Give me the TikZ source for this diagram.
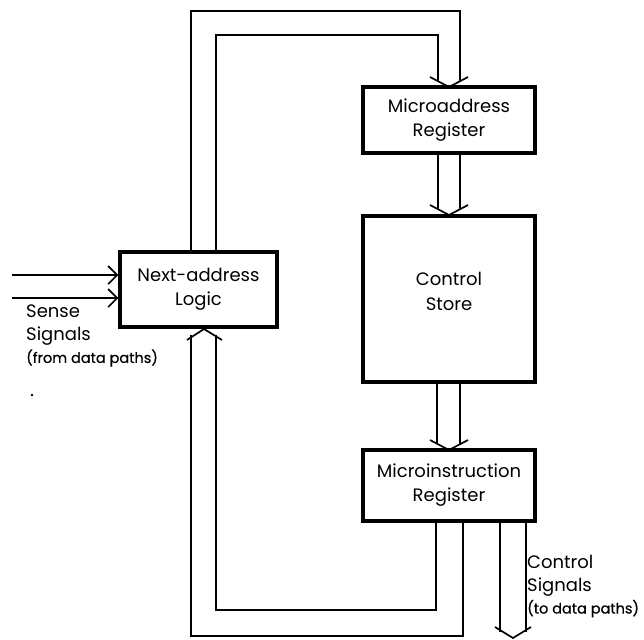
\documentclass[tikz,border=0pt]{standalone}
\usepackage{fontspec}
\setmainfont{Poppins}
\newfontfamily\smlfam[FakeBold=0.6]{Poppins}
\usetikzlibrary{arrows.meta}
\newcommand\smlfont{\smlfam\fontsize{14.5}{17}\selectfont}
\begin{document}
\begin{tikzpicture}[x=1pt,y=-1pt,
  blk/.style={draw,line width=3.2pt,inner sep=0pt,align=center,font=\fontsize{18}{24}\selectfont},
  txt/.style={inner sep=0pt,align=center,font=\fontsize{18}{25}\selectfont},
  bus/.style={line width=1.7pt,line join=miter},
  vhead/.style={line width=1.7pt},
  lbl/.style={anchor=north west,inner sep=0pt,align=left,font=\fontsize{18}{22.5}\selectfont}]
\useasboundingbox (0,0) rectangle (644,639);
% boxes
\node[blk,minimum width=157pt,minimum height=75pt] (nal) at (198.5,289.5) {Next-address\\Logic};
\node[blk,minimum width=172pt,minimum height=66pt] (mar) at (449,120) {Microaddress\\Register};
\node[blk,minimum width=172pt,minimum height=166pt] (cs) at (449,299) {};
\node[txt] (cst) at (449,291) {Control\\Store};
\node[blk,minimum width=172pt,minimum height=71pt] (mir) at (449,485.5) {Microinstruction\\Register};
% coordinates for bus arrows
\coordinate (t1) at (449,87);
\coordinate (t2) at (449,215);
\coordinate (t3) at (449,450);
\coordinate (t4) at (204,329);
\coordinate (t5) at (513,638);
% top loop: NAL -> MAR
\draw[bus] (nal.north -| 191,0) -- (191,11) -- (460,11) -- (460,81);
\draw[bus] (nal.north -| 216,0) -- (216,35) -- (438,35) -- (438,81);
\draw[vhead] (430,77) -- (t1) -- (468,77);
% MAR -> CS
\draw[bus] (mar.south -| 438,0) -- (438,209);
\draw[bus] (mar.south -| 460,0) -- (460,209);
\draw[vhead] (430,205) -- (t2) -- (468,205);
% CS -> MIR
\draw[bus] (cs.south -| 437,0) -- (437,444);
\draw[bus] (cs.south -| 460,0) -- (460,444);
\draw[vhead] (430,440) -- (t3) -- (468,440);
% bottom loop: MIR -> NAL
\draw[bus] (mir.south -| 436,0) -- (436,610) -- (216,610) -- (216,335);
\draw[bus] (mir.south -| 463,0) -- (463,636) -- (191,636) -- (191,335);
\draw[vhead] (187,340) -- (t4) -- (222,340);
% control signals
\draw[bus] (mir.south -| 500,0) -- (500,632);
\draw[bus] (mir.south -| 526,0) -- (526,632);
\draw[vhead] (495,627) -- (t5) -- (531,627);
% sense signals
\coordinate (s1) at (12,275);
\coordinate (s2) at (12,298);
\draw[line width=1.7pt,-{Straight Barb[length=9pt,width=18pt,line width=1.7pt]}] (s1) -- (s1 -| nal.west);
\draw[line width=1.7pt,-{Straight Barb[length=9pt,width=18pt,line width=1.7pt]}] (s2) -- (s2 -| nal.west);
% labels
\node[lbl] (sense) at (26,305) {Sense\\Signals\\{\smlfont(from data paths)}};
\node[lbl] (ctrl) at (527,555) {Control\\Signals\\{\smlfont(to data paths)}};
\fill (32,395) circle (1.4pt);
\end{tikzpicture}
\end{document}
